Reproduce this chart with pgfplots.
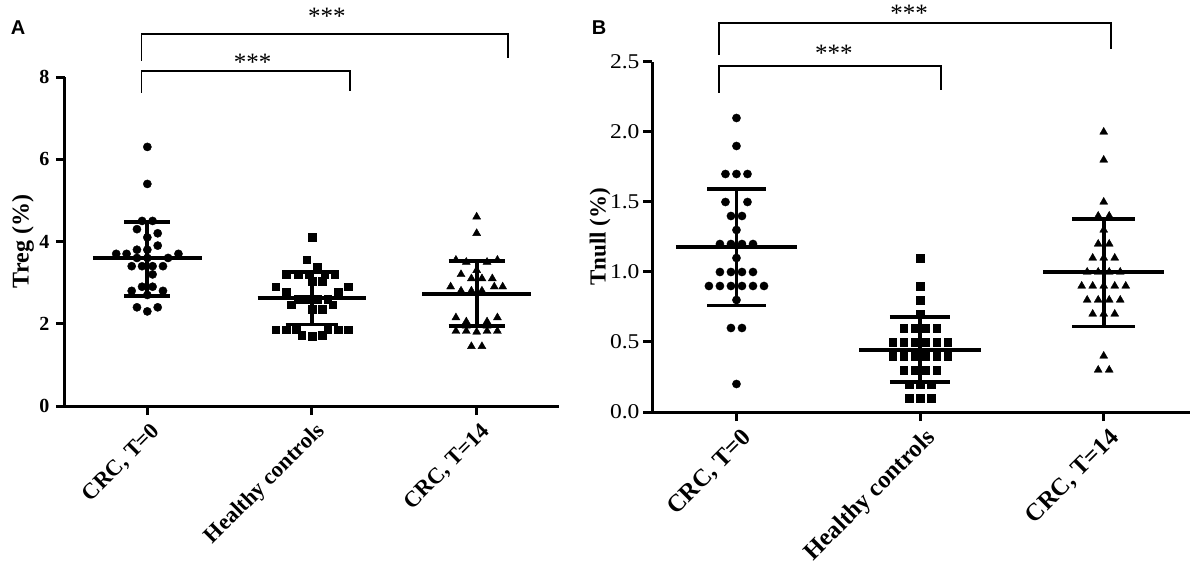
\documentclass[border=0pt]{standalone}
\usepackage{fontspec}
\setmainfont{Liberation Serif}
\newfontfamily\arialfont{Liberation Sans}
\newfontfamily\widefont[FakeStretch=1.12]{Liberation Serif}
\usepackage{pgfplots}
\pgfplotsset{compat=1.18}
\pgfplotsset{
  panel/.style={
    scale only axis, anchor=south west, clip=false,
    axis lines*=left, axis line style={line width=3pt,-},
    tick style={line width=3pt,black}, tick align=outside, major tick length=9pt,
    xmin=-0.5, xmax=2.5, xtick={0,1,2},
    xticklabels={{CRC, T=0},{Healthy controls},{CRC, T=14}},
    /pgf/number format/assume math mode=true,
  },
  dot/.style={only marks, mark=*, mark size=4.1pt, mark options={draw=black,fill=black}},
  sq/.style={only marks, mark=square*, mark size=3.8pt, mark options={draw=black,fill=black}},
  tri/.style={only marks, mark=triangle*, mark size=4.6pt, mark options={draw=black,fill=black}},
  bar/.style={black, line width=3.8pt, no marks},
  brk/.style={black, line width=1.8pt},
}
\begin{document}
\begin{tikzpicture}
\path[use as bounding box] (0,0) rectangle (1192pt,584pt);
\node[font=\arialfont\bfseries\fontsize{20}{22}\selectfont] at (18pt,556pt) {A};
\node[font=\arialfont\bfseries\fontsize{20}{22}\selectfont] at (599pt,556pt) {B};
% ---------------- Panel A ----------------
\begin{axis}[panel,
  at={(65pt,178pt)}, width=494pt, height=329pt,
  ymin=0, ymax=8, ytick={0,2,4,6,8},
  yticklabel style={font=\bfseries\fontsize{20}{22}\selectfont, xshift=-3pt},
  xticklabel style={font=\bfseries\fontsize{22.5}{24}\selectfont, rotate=45, anchor=east, yshift=-16pt, xshift=1pt},
  ylabel={Treg (\%)},
  ylabel style={font=\bfseries\fontsize{24}{26}\selectfont, at={(axis description cs:0,0.5)}, anchor=center, yshift=42pt},
]
\addplot[dot] coordinates {
(0,6.3) (0,5.4) (-0.032,4.5) (0.032,4.5) (-0.063,4.3) (0.063,4.2) (0,4.1)
(0.063,3.9) (-0.063,3.8) (0,3.8) (-0.189,3.7) (-0.126,3.7) (0.189,3.7)
(0.126,3.6) (-0.063,3.6) (0,3.6) (-0.095,3.4) (-0.032,3.4) (0.032,3.4) (0.095,3.4)
(0.032,3.2) (-0.032,2.9) (0.032,2.9) (-0.095,2.8) (0.095,2.8) (0,2.7)
(-0.063,2.4) (0.063,2.4) (0,2.3)};
\addplot[sq] coordinates {
(1,4.1) (0.968,3.56) (1.032,3.37) (0.842,3.2) (0.918,3.2) (0.981,3.2) (1.076,3.2) (1.139,3.2)
(1,3.03) (1.063,3.03) (0.78,2.9) (1.22,2.9) (0.842,2.77) (1.158,2.77)
(0.918,2.6) (0.968,2.6) (1.032,2.6) (1.095,2.6) (0.874,2.46) (1.126,2.46) (1,2.36) (1.063,2.36)
(0.78,1.86) (0.842,1.86) (0.905,1.86) (1.095,1.86) (1.158,1.86) (1.22,1.86)
(0.937,1.72) (1,1.7) (1.063,1.72)};
\addplot[tri] coordinates {
(2,4.6) (2,4.2) (1.874,3.55) (1.937,3.5) (2.063,3.5) (2.126,3.55)
(1.905,3.2) (2,3.3) (1.968,3.1) (2.032,3.1) (2.095,3.1)
(1.842,2.9) (2.107,2.9) (2.158,2.9) (1.905,2.8) (1.968,2.8) (2.032,2.8)
(1.874,2.15) (2.126,2.15) (1.937,2.05) (2.063,2.05)
(1.874,1.82) (1.937,1.82) (2,1.8) (2.063,1.82) (2.126,1.82)
(1.937,1.95) (2.063,1.95) (1.968,1.45) (2.032,1.45)};
% mean and SD
\addplot[bar] coordinates {(-0.33,3.6) (0.33,3.6)};
\addplot[bar] coordinates {(-0.14,4.47) (0.14,4.47)};
\addplot[bar] coordinates {(-0.14,2.68) (0.14,2.68)};
\addplot[bar] coordinates {(0,2.68) (0,4.47)};
\addplot[bar] coordinates {(0.67,2.62) (1.33,2.62)};
\addplot[bar] coordinates {(0.84,3.25) (1.16,3.25)};
\addplot[bar] coordinates {(0.84,1.98) (1.16,1.98)};
\addplot[bar] coordinates {(1,1.98) (1,3.25)};
\addplot[bar] coordinates {(1.67,2.72) (2.33,2.72)};
\addplot[bar] coordinates {(1.83,3.52) (2.17,3.52)};
\addplot[bar] coordinates {(1.83,1.94) (2.17,1.94)};
\addplot[bar] coordinates {(2,1.94) (2,3.52)};
% significance brackets
\addplot[brk] coordinates {(-0.035,7.62) (-0.035,8.14) (1.23,8.14) (1.23,7.66)};
\addplot[brk] coordinates {(-0.035,8.40) (-0.035,9.04) (2.19,9.04) (2.19,8.47)};
\node[anchor=base, font=\fontsize{25}{27}\selectfont] at (axis cs:0.64,8.17) {***};
\node[anchor=base, font=\fontsize{25}{27}\selectfont] at (axis cs:1.09,9.28) {***};
\end{axis}
% ---------------- Panel B ----------------
\begin{axis}[panel,
  at={(652pt,172pt)}, width=538pt, height=350pt,
  xmin=-0.46, xmax=2.47,
  ymin=0, ymax=2.5, ytick={0,0.5,1,1.5,2,2.5},
  yticklabel style={font=\widefont\fontsize{21}{23}\selectfont, /pgf/number format/.cd, fixed, fixed zerofill, precision=1},
  xticklabel style={font=\bfseries\fontsize{24.5}{26}\selectfont, rotate=45, anchor=east, yshift=-18pt, xshift=2pt},
  ylabel={Tnull (\%)},
  ylabel style={font=\bfseries\fontsize{23}{25}\selectfont, at={(axis description cs:0,0.5)}, anchor=center, yshift=52pt},
]
\addplot[dot] coordinates {
(0,2.1) (0,1.9) (-0.06,1.7) (0,1.7) (0.06,1.7) (-0.06,1.5) (0.06,1.5)
(-0.03,1.4) (0.03,1.4) (0,1.3) (-0.09,1.2) (-0.03,1.2) (0.03,1.2) (0.09,1.2)
(0,1.1) (-0.09,1.0) (-0.03,1.0) (0.03,1.0) (0.09,1.0)
(-0.15,0.9) (-0.09,0.9) (-0.03,0.9) (0.03,0.9) (0.09,0.9) (0.15,0.9)
(0,0.8) (-0.03,0.6) (0.03,0.6) (0,0.2)};
\addplot[sq] coordinates {
(1,1.1) (1,0.9) (1,0.8) (1,0.7)
(0.91,0.6) (0.97,0.6) (1.03,0.6) (1.09,0.6)
(0.85,0.5) (0.91,0.5) (0.97,0.5) (1.03,0.5) (1.09,0.5) (1.15,0.5)
(0.85,0.4) (0.91,0.4) (0.97,0.4) (1.03,0.4) (1.09,0.4) (1.15,0.4)
(0.91,0.3) (0.97,0.3) (1.03,0.3) (1.09,0.3)
(0.94,0.2) (1,0.2) (1.06,0.2) (0.94,0.1) (1,0.1) (1.06,0.1)};
\addplot[tri] coordinates {
(2,2.0) (2,1.8) (2,1.5) (1.97,1.4) (2.03,1.4) (2,1.3) (1.97,1.2) (2.03,1.2)
(1.94,1.1) (2,1.1) (2.06,1.1) (1.91,1.0) (1.97,1.0) (2.03,1.0) (2.09,1.0)
(1.88,0.9) (1.94,0.9) (2,0.9) (2.06,0.9) (2.12,0.9)
(1.91,0.8) (1.97,0.8) (2.03,0.8) (2.09,0.8)
(1.94,0.7) (2,0.7) (2.06,0.7) (2,0.4) (1.97,0.3) (2.03,0.3)};
\addplot[bar] coordinates {(-0.33,1.18) (0.33,1.18)};
\addplot[bar] coordinates {(-0.16,1.59) (0.16,1.59)};
\addplot[bar] coordinates {(-0.16,0.76) (0.16,0.76)};
\addplot[bar] coordinates {(0,0.76) (0,1.59)};
\addplot[bar] coordinates {(0.67,0.445) (1.33,0.445)};
\addplot[bar] coordinates {(0.835,0.68) (1.165,0.68)};
\addplot[bar] coordinates {(0.835,0.215) (1.165,0.215)};
\addplot[bar] coordinates {(1,0.215) (1,0.68)};
\addplot[bar] coordinates {(1.67,1.0) (2.33,1.0)};
\addplot[bar] coordinates {(1.83,1.38) (2.17,1.38)};
\addplot[bar] coordinates {(1.83,0.61) (2.17,0.61)};
\addplot[bar] coordinates {(2,0.61) (2,1.38)};
\addplot[brk] coordinates {(-0.094,2.28) (-0.094,2.47) (1.116,2.47) (1.116,2.30)};
\addplot[brk] coordinates {(-0.094,2.55) (-0.094,2.78) (2.04,2.78) (2.04,2.59)};
\node[anchor=base, font=\fontsize{25}{27}\selectfont] at (axis cs:0.53,2.50) {***};
\node[anchor=base, font=\fontsize{25}{27}\selectfont] at (axis cs:0.94,2.79) {***};
\end{axis}
\end{tikzpicture}
\end{document}
